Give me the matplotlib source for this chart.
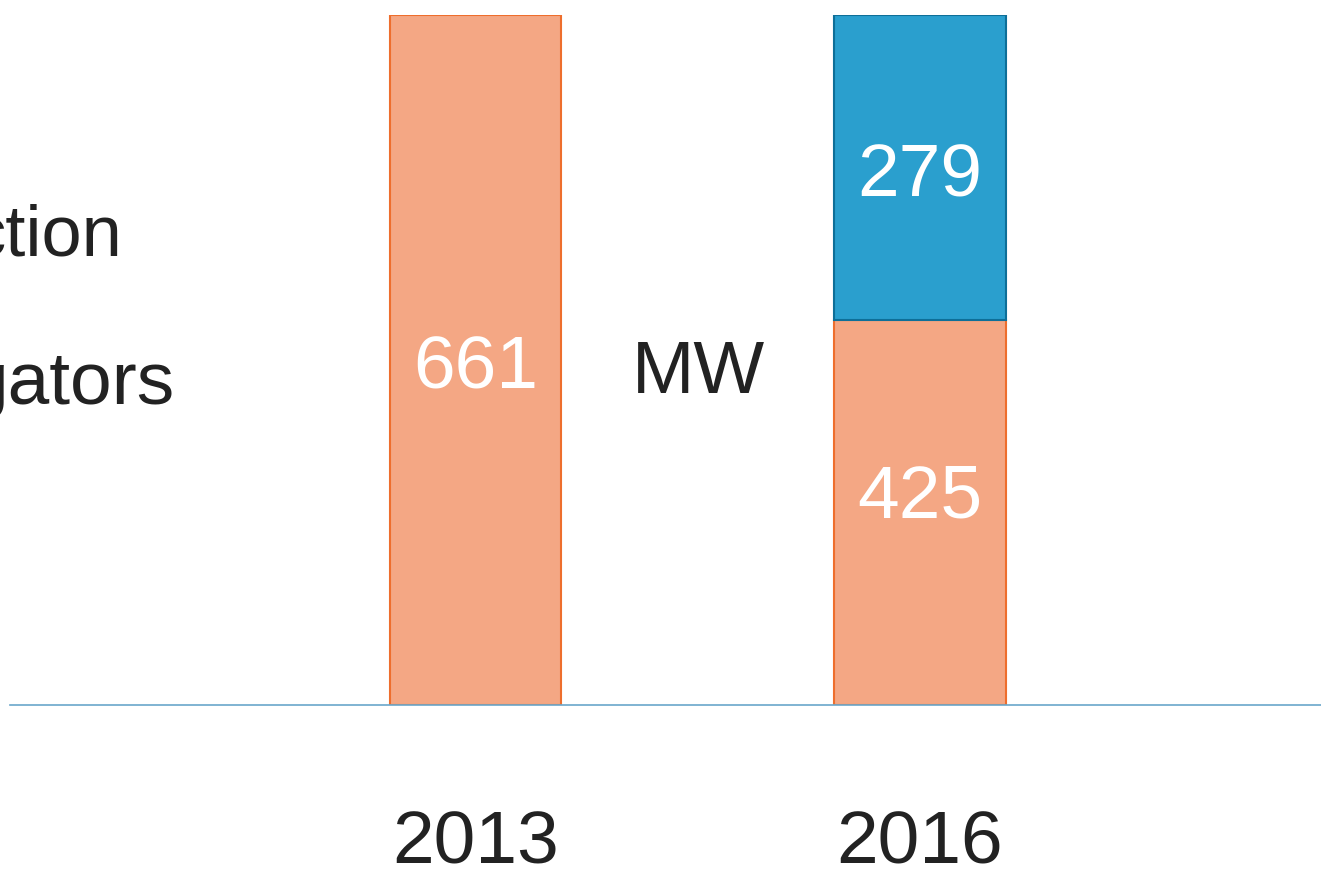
import matplotlib
matplotlib.use("Agg")
import matplotlib.pyplot as plt
import matplotlib.transforms as mtransforms

plt.rcParams['font.family'] = ['Liberation Sans', 'DejaVu Sans']

categories = ["2013", "2016"]
# displayed values (labels)
orange_values = [661, 425]
blue_values = [None, 279]
# drawn segment heights as shown in the picture (share of full bar height, %)
orange_heights = [100.0, 55.8]
blue_heights = [0.0, 44.2]
left_labels = ["ction", "gators"]
unit_label = "MW"

W, H = 1321, 869
fig = plt.figure(figsize=(W / 100, H / 100), dpi=100)
ax = fig.add_axes([10 / W, 1 - 705 / H, 1 - 10 / W, (705 - 15) / H])

x = [0, 1]
width = 0.385
ax.bar(x, orange_heights, width=width, color="#F4A784", edgecolor="#EE6E2D", linewidth=1.5, zorder=2)
ax.bar(x[1], blue_heights[1], bottom=orange_heights[1], width=width, color="#2A9FCE",
       edgecolor="#0E6F98", linewidth=1.5, zorder=3)

ax.set_xlim(-1.047, 1.902)
ax.set_ylim(0, 100)

for s in ["top", "right", "left"]:
    ax.spines[s].set_visible(False)
ax.spines["bottom"].set_color("#6AA7CB")
ax.spines["bottom"].set_linewidth(1.2)
ax.set_yticks([])
ax.set_xticks([])

fs = 54
dark = "#222222"

def ypx(p):
    return (705 - p) / 690 * 100

trans = mtransforms.blended_transform_factory(ax.transData, ax.transAxes)
for xi, cat in zip(x, categories):
    ax.text(xi, (705 - 864) / 690, cat, transform=trans, ha="center", va="baseline",
            color=dark, fontsize=fs, clip_on=False)

ax.text(x[0], ypx(388), str(orange_values[0]), ha="center", va="baseline",
        color="white", fontsize=fs, zorder=5)
ax.text(x[1], ypx(517), str(orange_values[1]), ha="center", va="baseline",
        color="white", fontsize=fs, zorder=5)
ax.text(x[1], ypx(196), str(blue_values[1]), ha="center", va="baseline",
        color="white", fontsize=fs, zorder=5)
ax.text(0.502, ypx(393), unit_label, ha="center", va="baseline", color=dark, fontsize=fs)

fig.text(123 / W, 1 - 256 / H, left_labels[0], ha="right", va="baseline", color=dark, fontsize=52)
fig.text(175 / W, 1 - 404 / H, left_labels[1], ha="right", va="baseline", color=dark, fontsize=fs)

fig.savefig("out.png", dpi=100)
